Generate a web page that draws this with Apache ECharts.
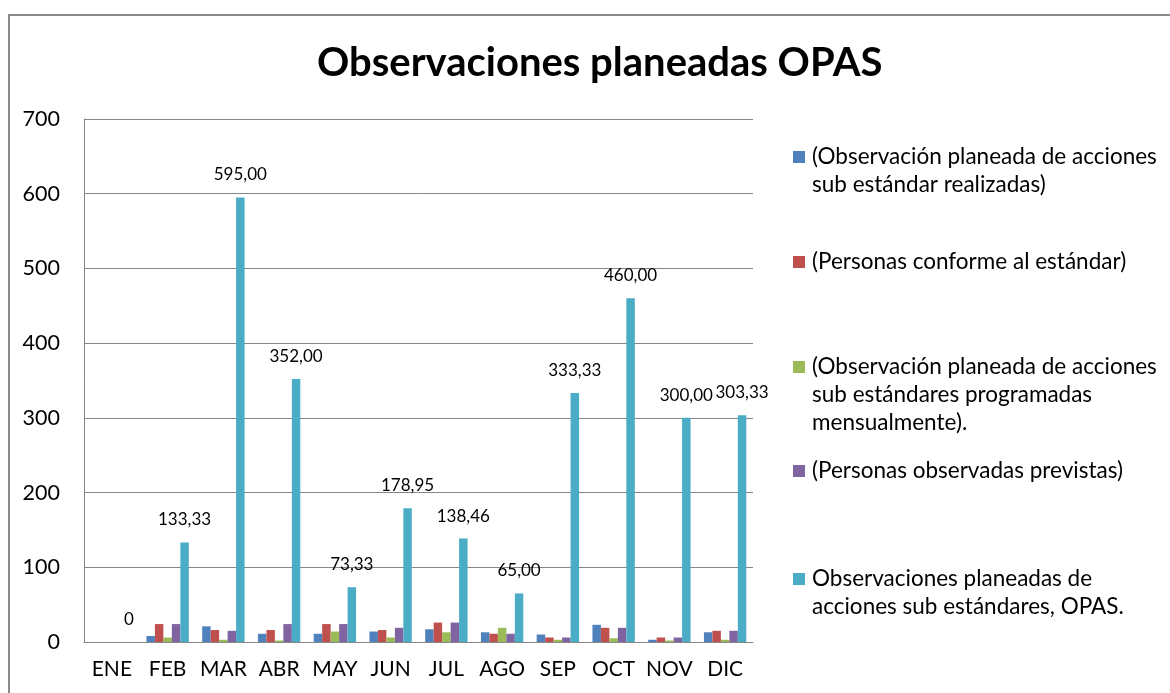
<!DOCTYPE html>
<html lang="es">
<head>
    <meta charset="UTF-8">
    <title>Observaciones planeadas OPAS</title>
    <style>
        body { margin: 0; background: #fff; }
        #frame { position: absolute; left: 8px; top: 14px; width: 1200px; height: 700px;
                 border-left: 2px solid #8a8a8a; border-top: 2px solid #8a8a8a; }
        #myChart { position: absolute; left: 0; top: 0; width: 1170px; height: 693px; }
    </style>
</head>
<body>
    <div id="frame"></div>
    <div id="myChart"></div>
</body>
<script src="https://cdn.jsdelivr.net/npm/echarts@6/dist/echarts.min.js"></script>
<script>
    let months = ['ENE', 'FEB', 'MAR', 'ABR', 'MAY', 'JUN', 'JUL', 'AGO', 'SEP', 'OCT', 'NOV', 'DIC'];
    let realizadas = [0, 8, 21, 11, 11, 14, 17, 13, 10, 23, 3, 13];
    let conformes = [0, 24, 16, 16, 24, 16, 26, 11, 6, 19, 6, 15];
    let programadas = [0, 6, 3, 2, 14, 6, 13, 19, 3, 5, 2, 3];
    let previstas = [0, 24, 15, 24, 24, 19, 26, 11, 6, 19, 6, 15];
    let opas = [0, 133.33, 595.00, 352.00, 73.33, 178.95, 138.46, 65.00, 333.33, 460.00, 300.00, 303.33];
    let opasLabels = ['0', '133,33', '595,00', '352,00', '73,33', '178,95', '138,46', '65,00', '333,33', '460,00', '300,00', '303,33'];
    let yTicks = [0, 100, 200, 300, 400, 500, 600, 700];

    let names = [
        '(Observación planeada de acciones sub estándar realizadas)',
        '(Personas conforme al estándar)',
        '(Observación planeada de acciones sub estándares programadas mensualmente).',
        '(Personas observadas previstas)',
        'Observaciones planeadas de acciones sub estándares, OPAS.'
    ];
    let wrapped = [
        '(Observación planeada de acciones\nsub estándar realizadas)',
        '(Personas conforme al estándar)',
        '(Observación planeada de acciones\nsub estándares programadas\nmensualmente).',
        '(Personas observadas previstas)',
        'Observaciones planeadas de\nacciones sub estándares, OPAS.'
    ];
    let colors = ['#4f81bd', '#c0504d', '#9bbb59', '#8064a2', '#4bacc6'];
    let values = [realizadas, conformes, programadas, previstas, opas];

    let font = 'Lato, "Liberation Sans", sans-serif';
    let legendTops = [115, 248, 297, 457, 537];
    let lineH = 28;

    let legends = names.map(function (n, i) {
        let lines = wrapped[i].split('\n').length;
        // blank lines above so the icon sits beside the first line
        let txt = ' \n'.repeat(lines - 1) + wrapped[i];
        return {
            data: [n],
            left: 793,
            top: legendTops[i],
            padding: 0,
            itemWidth: 12,
            itemHeight: 12,
            itemGap: 0,
            icon: 'rect',
            selectedMode: false,
            formatter: function () { return txt; },
            textStyle: {
                fontFamily: font,
                fontSize: 22.5,
                color: '#000',
                lineHeight: lineH,
                padding: [0, 0, 0, 2]
            }
        };
    });

    let series = names.map(function (n, i) {
        let s = {
            name: n,
            type: 'bar',
            data: values[i],
            itemStyle: { color: colors[i] },
            barGap: '0%',
            barCategoryGap: '24%'
        };
        if (i === 4) {
            s.label = {
                show: true,
                position: 'top',
                distance: 14,
                fontFamily: font,
                fontSize: 17,
                color: '#000',
                formatter: function (p) { return opasLabels[p.dataIndex]; }
            };
        }
        return s;
    });

    let chart = echarts.init(document.getElementById('myChart'));
    let option = {
        animation: false,
        color: colors,
        title: {
            text: 'Observaciones planeadas OPAS',
            left: 312,
            top: 38,
            textStyle: { fontFamily: font, fontSize: 40, fontWeight: 'bold', color: '#000' }
        },
        legend: legends,
        grid: { left: 84, right: 417, top: 119, bottom: 51 },
        xAxis: {
            type: 'category',
            data: months,
            axisLine: { lineStyle: { color: '#868686', width: 1 } },
            axisTick: { show: false },
            axisLabel: { interval: 0, fontFamily: font, fontSize: 21, color: '#000', margin: 17 }
        },
        yAxis: {
            type: 'value',
            min: yTicks[0],
            max: yTicks[yTicks.length - 1],
            interval: 100,
            axisLine: { show: true, lineStyle: { color: '#868686', width: 1 } },
            axisTick: { show: false },
            splitLine: { lineStyle: { color: '#868686', width: 1 } },
            axisLabel: { fontFamily: font, fontSize: 21.5, color: '#000', margin: 24 }
        },
        series: series
    };
    chart.setOption(option);
</script>
</html>
